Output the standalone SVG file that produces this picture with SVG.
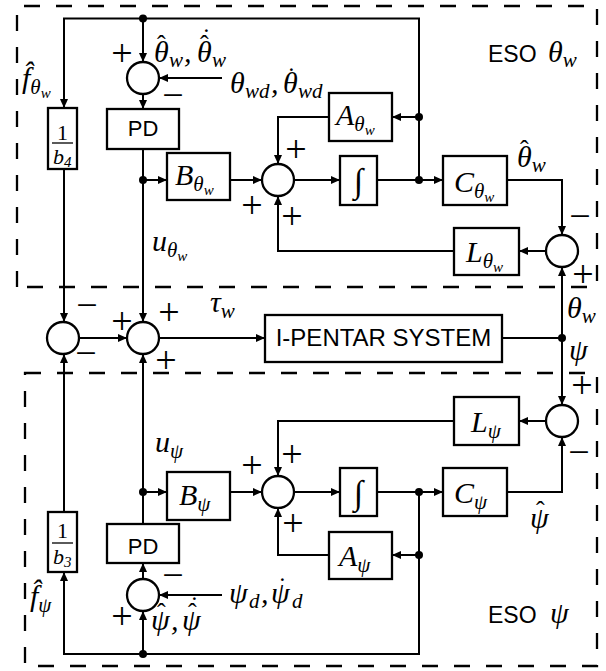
<svg xmlns="http://www.w3.org/2000/svg" width="606" height="671" viewBox="0 0 606 671">
<style>
.bx{fill:#fff;stroke:#000;stroke-width:2.3}
.sm{fill:#fff;stroke:#000;stroke-width:2.3}
.dash{fill:none;stroke:#000;stroke-width:2.3;stroke-dasharray:16 16}
.m{font-family:"Liberation Serif","DejaVu Serif",serif;font-style:italic;font-size:30px;fill:#000}
.s{font-size:21px}
.ss{font-size:15px}
.acc{font-style:normal;font-size:26px}
.sg{font-family:"Liberation Serif","DejaVu Serif",serif;font-size:38px;fill:#000;text-anchor:middle}
.sans{font-family:"Liberation Sans",Arial,sans-serif;fill:#000}
</style>
<defs>
<marker id="ar" markerWidth="9" markerHeight="8" refX="9" refY="4" orient="auto" markerUnits="userSpaceOnUse"><path d="M0,0 L9,4 L0,8 z" fill="#000"/></marker>
</defs>
<rect width="606" height="671" fill="#fff"/>
<g id="eso-theta-frame"><path class="dash" d="M17,287 V6 H597 V287 H17"/></g>
<g id="eso-psi-frame"><path class="dash" d="M25,373 H597 V666 H25 Z"/></g>

<g id="connectors" fill="none" stroke="#000" stroke-width="2">
<path d="M419,180 V18.5 H64 V108" marker-end="url(#ar)"/>
<path d="M143,18.5 V62" marker-end="url(#ar)"/>
<path d="M222,78 H159" marker-end="url(#ar)"/>
<path d="M143,94 V109" marker-end="url(#ar)"/>
<path d="M143,149 V322" marker-end="url(#ar)"/>
<path d="M143,180 H167" marker-end="url(#ar)"/>
<path d="M230,180 H262" marker-end="url(#ar)"/>
<path d="M329,117 H278 V164" marker-end="url(#ar)"/>
<path d="M294,180 H340" marker-end="url(#ar)"/>
<path d="M377,180 H443" marker-end="url(#ar)"/>
<path d="M419,117 H392" marker-end="url(#ar)"/>
<path d="M507,180 H562 V235" marker-end="url(#ar)"/>
<path d="M546,251 H519" marker-end="url(#ar)"/>
<path d="M454,251 H278 V196" marker-end="url(#ar)"/>
<path d="M64,169 V322" marker-end="url(#ar)"/>
<path d="M79,338 H127" marker-end="url(#ar)"/>
<path d="M159,338 H265" marker-end="url(#ar)"/>
<path d="M502,338 H562"/>
<path d="M562,338 V267" marker-end="url(#ar)"/>
<path d="M562,338 V405" marker-end="url(#ar)"/>
<path d="M419,492 V654 H64 V572" marker-end="url(#ar)"/>
<path d="M64,512 V354" marker-end="url(#ar)"/>
<path d="M143,654 V611" marker-end="url(#ar)"/>
<path d="M222,595 H159" marker-end="url(#ar)"/>
<path d="M143,579 V563" marker-end="url(#ar)"/>
<path d="M143,524 V354" marker-end="url(#ar)"/>
<path d="M143,492 H167" marker-end="url(#ar)"/>
<path d="M230,492 H262" marker-end="url(#ar)"/>
<path d="M454,421 H278 V476" marker-end="url(#ar)"/>
<path d="M329,555 H278 V508" marker-end="url(#ar)"/>
<path d="M294,492 H340" marker-end="url(#ar)"/>
<path d="M377,492 H443" marker-end="url(#ar)"/>
<path d="M419,555 H392" marker-end="url(#ar)"/>
<path d="M507,492 H562 V437" marker-end="url(#ar)"/>
<path d="M546,421 H519" marker-end="url(#ar)"/>
<g stroke="none" fill="#000">
<circle cx="143" cy="18.5" r="4"/><circle cx="143" cy="180" r="4"/><circle cx="419" cy="117" r="4"/><circle cx="419" cy="180" r="4"/><circle cx="562" cy="338" r="4"/><circle cx="143" cy="492" r="4"/><circle cx="419" cy="492" r="4"/><circle cx="419" cy="555" r="4"/><circle cx="143" cy="654" r="4"/>
</g>
</g>

<!-- upper ESO -->
<g id="sum-top"><circle class="sm" cx="143" cy="78" r="16"/></g>
<g id="pd-theta"><rect class="bx" x="107" y="109" width="72" height="40"/><text class="sans" x="143" y="136" font-size="22" text-anchor="middle">PD</text></g>
<g id="gain-b4"><rect class="bx" x="48" y="108" width="29" height="61"/><text class="m" x="62.5" y="140" text-anchor="middle" style="font-style:normal;font-size:22px">1</text><line x1="52" y1="143" x2="73" y2="143" stroke="#000" stroke-width="1.3"/><text class="m" x="53" y="164" style="font-size:22px">b<tspan class="ss" dy="3">4</tspan></text></g>
<g id="B-theta"><rect class="bx" x="167" y="153" width="63" height="47"/><text class="m" x="175" y="185">B<tspan class="s" dy="6">θ</tspan><tspan class="ss" dy="4">w</tspan></text></g>
<g id="sum-theta"><circle class="sm" cx="278" cy="180" r="16"/></g>
<g id="A-theta"><rect class="bx" x="329" y="93" width="63" height="48"/><text class="m" x="336" y="125">A<tspan class="s" dy="6">θ</tspan><tspan class="ss" dy="4">w</tspan></text></g>
<g id="int-theta"><rect class="bx" x="340" y="156" width="37" height="49"/><text class="m" x="358.5" y="192" text-anchor="middle" style="font-style:normal;font-size:34px">∫</text></g>
<g id="C-theta"><rect class="bx" x="443" y="156" width="64" height="49"/><text class="m" x="454" y="192">C<tspan class="s" dy="6">θ</tspan><tspan class="ss" dy="4">w</tspan></text></g>
<g id="L-theta"><rect class="bx" x="454" y="228" width="65" height="47"/><text class="m" x="466" y="262">L<tspan class="s" dy="6">θ</tspan><tspan class="ss" dy="4">w</tspan></text></g>
<g id="sum-err-theta"><circle class="sm" cx="562" cy="251" r="16"/></g>

<!-- middle -->
<g id="sum-mid-left"><circle class="sm" cx="63" cy="338" r="16"/></g>
<g id="sum-mid-right"><circle class="sm" cx="143" cy="338" r="16"/></g>
<g id="plant"><rect class="bx" x="265" y="315" width="237" height="47"/><text class="sans" x="383.5" y="346" font-size="24" text-anchor="middle">I-PENTAR SYSTEM</text></g>

<!-- lower ESO -->
<g id="sum-err-psi"><circle class="sm" cx="562" cy="421" r="16"/></g>
<g id="L-psi"><rect class="bx" x="454" y="397" width="65" height="48"/><text class="m" x="471" y="432">L<tspan class="s" dy="6">ψ</tspan></text></g>
<g id="B-psi"><rect class="bx" x="167" y="472" width="63" height="48"/><text class="m" x="179" y="505">B<tspan class="s" dy="6">ψ</tspan></text></g>
<g id="sum-psi"><circle class="sm" cx="278" cy="492" r="16"/></g>
<g id="int-psi"><rect class="bx" x="340" y="468" width="37" height="48"/><text class="m" x="358.5" y="504" text-anchor="middle" style="font-style:normal;font-size:34px">∫</text></g>
<g id="C-psi"><rect class="bx" x="443" y="468" width="64" height="48"/><text class="m" x="454" y="503">C<tspan class="s" dy="6">ψ</tspan></text></g>
<g id="A-psi"><rect class="bx" x="329" y="532" width="63" height="47"/><text class="m" x="339" y="566">A<tspan class="s" dy="6">ψ</tspan></text></g>
<g id="pd-psi"><rect class="bx" x="107" y="524" width="72" height="39"/><text class="sans" x="143" y="554" font-size="22" text-anchor="middle">PD</text></g>
<g id="sum-bottom"><circle class="sm" cx="143" cy="595" r="16"/></g>
<g id="gain-b3"><rect class="bx" x="48" y="512" width="29" height="60"/><text class="m" x="62.5" y="538" text-anchor="middle" style="font-style:normal;font-size:22px">1</text><line x1="52" y1="543" x2="73" y2="543" stroke="#000" stroke-width="1.3"/><text class="m" x="53" y="564" style="font-size:22px">b<tspan class="ss" dy="3">3</tspan></text></g>

<!-- labels -->
<g id="labels">
<text class="m" x="22" y="88">f̂<tspan class="s" dy="6">θ</tspan><tspan class="ss" dy="4">w</tspan></text>
<text class="m" x="154" y="62">θ<tspan class="s" x="169" y="67">w</tspan><tspan x="184" y="62">,</tspan><tspan x="197" y="62">θ</tspan><tspan class="s" x="212" y="67">w</tspan><tspan class="acc" x="157" y="53">ˆ</tspan><tspan class="acc" x="200" y="53">ˆ</tspan><tspan class="acc" x="202" y="46">˙</tspan></text>
<text class="m" x="230" y="93">θ<tspan class="s" x="245" y="98">wd</tspan><tspan x="271" y="93">,</tspan><tspan x="283" y="93">θ</tspan><tspan class="s" x="298" y="98">wd</tspan><tspan class="acc" x="287" y="85">˙</tspan></text>
<text class="m" x="152" y="251">u<tspan class="s" dy="6">θ</tspan><tspan class="ss" dy="4">w</tspan></text>
<text class="m" x="517" y="167">θ<tspan class="s" dy="5">w</tspan><tspan class="acc" x="520" y="158">ˆ</tspan></text>
<text class="sans" x="488" y="62" font-size="23">ESO</text>
<text class="m" x="548" y="62">θ<tspan class="s" dy="5">w</tspan></text>
<text class="m" x="210" y="312">τ<tspan class="s" dy="6">w</tspan></text>
<text class="m" x="567" y="318">θ<tspan class="s" dy="5">w</tspan></text>
<text class="m" x="569" y="360">ψ</text>
<text class="m" x="155" y="452">u<tspan class="s" dy="6">ψ</tspan></text>
<text class="m" x="151" y="630">ψ<tspan x="171" y="630">,</tspan><tspan x="182" y="630">ψ</tspan><tspan class="acc" x="157" y="621">ˆ</tspan><tspan class="acc" x="188" y="621">ˆ</tspan><tspan class="acc" x="190" y="614">˙</tspan></text>
<text class="m" x="229" y="603">ψ<tspan class="s" x="249" y="608">d</tspan><tspan x="261" y="603">,</tspan><tspan x="271" y="603">ψ</tspan><tspan class="s" x="292" y="608">d</tspan><tspan class="acc" x="278" y="595">˙</tspan></text>
<text class="m" x="30" y="606">f̂<tspan class="s" dy="6">ψ</tspan></text>
<text class="m" x="530" y="528">ψ<tspan class="acc" x="536" y="519">ˆ</tspan></text>
<text class="sans" x="488" y="623" font-size="23">ESO</text>
<text class="m" x="550" y="623">ψ</text>
</g>
<g id="signs">
<text class="sg" x="122" y="66">+</text>
<text class="sg" x="173" y="108">−</text>
<text class="sg" x="296" y="162">+</text>
<text class="sg" x="252" y="218">+</text>
<text class="sg" x="292" y="229">+</text>
<text class="sg" x="580" y="229">−</text>
<text class="sg" x="583" y="287">+</text>
<text class="sg" x="87" y="318">−</text>
<text class="sg" x="122" y="334">+</text>
<text class="sg" x="169" y="325">+</text>
<text class="sg" x="86" y="366">−</text>
<text class="sg" x="166" y="373">+</text>
<text class="sg" x="582" y="398">+</text>
<text class="sg" x="579" y="465">−</text>
<text class="sg" x="252" y="478">+</text>
<text class="sg" x="292" y="467">+</text>
<text class="sg" x="293" y="536">+</text>
<text class="sg" x="173" y="588">−</text>
<text class="sg" x="122" y="629">+</text>
</g>
</svg>
